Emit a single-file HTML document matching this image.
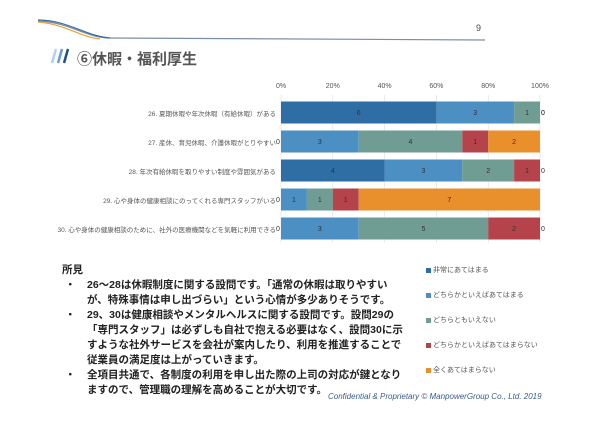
<!DOCTYPE html>
<html><head><meta charset="utf-8">
<style>
body{margin:0;width:600px;height:424px;background:#fff;position:relative;overflow:hidden;font-family:"Liberation Sans","Noto Sans CJK JP",sans-serif}
.abs{position:absolute}
.cat{position:absolute;right:324px;font-size:6.5px;color:#555;white-space:nowrap}
.notes{position:absolute;left:62px;top:263px;width:349px;font-size:10.5px;font-weight:bold;color:#222;line-height:15px}
.notes .b{padding-left:25px;position:relative}
.notes .b span{position:absolute;left:3px;top:0}
.leg{position:absolute;left:426px;font-size:7px;color:#555}
.leg i{display:inline-block;width:5px;height:5px;margin-right:2px;vertical-align:middle}
</style></head><body>
<svg class="abs" style="left:0;top:0" width="600" height="80">
<path d="M38,21 C70,22 85,38 110,38 L485,40" stroke="#7a8fa6" stroke-width="1.2" fill="none"/>
<path d="M38,22 C65,24 80,37 100,39" stroke="#e8a33c" stroke-width="1.2" fill="none"/>
<path d="M38,20 C68,20 85,36 110,38" stroke="#3f6f9f" stroke-width="1.2" fill="none"/>
<line x1="52" y1="63" x2="56" y2="49" stroke="#b8d0e6" stroke-width="2.5"/>
<line x1="58" y1="63" x2="62" y2="49" stroke="#6a9bc9" stroke-width="2.5"/>
<line x1="64" y1="63" x2="68" y2="49" stroke="#1f4f8a" stroke-width="2.5"/>
</svg>
<div class="abs" style="left:476px;top:23px;font-size:9px;color:#444">9</div>
<div class="abs" style="left:77px;top:48px;font-size:15px;font-weight:bold;color:#555">⑥休暇・福利厚生</div>

<svg id="chart" class="abs" style="left:0;top:0" width="600" height="250"></svg>
<div id="cats"></div>

<div class="notes">
<div>所見</div>
<div class="b"><span>・</span>26～28は休暇制度に関する設問です。「通常の休暇は取りやすい<br>が、特殊事情は申し出づらい」という心情が多少ありそうです。</div>
<div class="b"><span>・</span>29、30は健康相談やメンタルヘルスに関する設問です。設問29の「専門スタッフ」は必ずしも自社で抱える必要はなく、設問30に示すような社外サービスを会社が案内したり、利用を推進することで従業員の満足度は上がっていきます。</div>
<div class="b"><span>・</span>全項目共通で、各制度の利用を申し出た際の上司の対応が鍵となりますので、管理職の理解を高めることが大切です。</div>
</div>
<div id="legend"></div>
<div class="abs" style="left:328px;top:392px;font-size:8px;font-style:italic;color:#3a5c8a">Confidential &amp; Proprietary © ManpowerGroup Co., Ltd. 2019</div>

<script>
const categories=["26. 夏期休暇や年次休暇（有給休暇）がある","27. 産休、育児休暇、介護休暇がとりやすい","28. 年次有給休暇を取りやすい制度や雰囲気がある","29. 心や身体の健康相談にのってくれる専門スタッフがいる","30. 心や身体の健康相談のために、社外の医療機関などを気軽に利用できる"];
const seriesNames=["非常にあてはまる","どちらかといえばあてはまる","どちらともいえない","どちらかといえばあてはまらない","全くあてはまらない"];
const s1=[6,0,4,0,0];
const s2=[3,3,3,1,3];
const s3=[1,4,2,1,5];
const s4=[0,1,1,1,2];
const s5=[0,2,0,7,0];
const ticks=["0%","20%","40%","60%","80%","100%"];
const colors=["#2f6ea5","#4b8fc3","#6f9d93","#b5434b","#e98f2c"];
const series=[s1,s2,s3,s4,s5];
const NS="http://www.w3.org/2000/svg";
const svg=document.getElementById('chart');
const x0=281,x1=540,yTop=98,rowH=29,barH=22;
const xs=p=>x0+(x1-x0)*p;
const yc=i=>yTop+rowH*i+rowH/2;
function mk(t,a){const e=document.createElementNS(NS,t);for(const k in a)e.setAttribute(k,a[k]);svg.appendChild(e);return e;}
ticks.forEach((t,i)=>{const x=xs(i/(ticks.length-1));
const g=mk('line',{x1:x,x2:x,y1:yTop-3,y2:yTop+rowH*categories.length,stroke:'#ddd','stroke-width':0.6});


const tx=mk('text',{x:x,y:88,'font-size':7,fill:'#555','text-anchor':'middle'});tx.textContent=t;

});
categories.forEach((c,i)=>{
const tot=series.reduce((a,s)=>a+s[i],0);let acc=0;
series.forEach((s,j)=>{const v=s[i];const xa=xs(acc/tot),xb=xs((acc+v)/tot);
if(v>0){const r=mk('rect',{x:xa,y:yc(i)-barH/2,width:xb-xa,height:barH,fill:colors[j]});

}
const lx=v>0?(xa+xb)/2:(acc===0?xa-3:xa+3);
const t=mk('text',{x:lx,y:yc(i)+2.5,'font-size':7,fill:'#333','text-anchor':'middle'});t.textContent=v;


acc+=v;});
const d=document.createElement('div');d.className='cat';d.style.top=(yc(i)-5)+'px';d.textContent=c;


document.getElementById('cats').appendChild(d);});
seriesNames.forEach((n,j)=>{const d=document.createElement('div');d.className='leg';d.style.top=(265+j*25)+'px';
d.innerHTML='<i style="background:'+colors[j]+'"></i>'+n;


document.getElementById('legend').appendChild(d);});
</script>
</body></html>
